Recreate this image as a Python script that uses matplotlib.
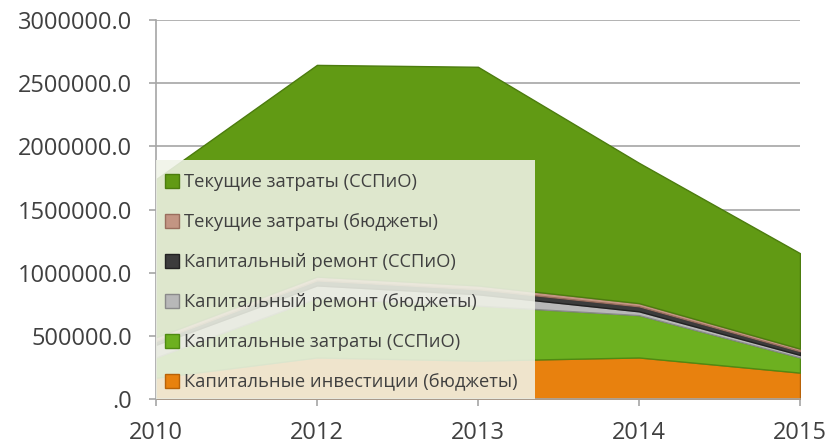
import matplotlib.pyplot as plt
from matplotlib.patches import Rectangle, Patch

plt.rcParams['font.family'] = ['Open Sans', 'DejaVu Sans']

years = ['2010', '2012', '2013', '2014', '2015']

# stacked from bottom to top
kap_invest_budget = [170000, 330000, 305000, 330000, 210000]
kap_zatraty_sspio = [160000, 470000, 435000, 335000, 120000]
kap_remont_budget = [100000, 100000, 90000, 30000, 20000]
kap_remont_sspio = [30000, 40000, 40000, 40000, 30000]
tek_zatraty_budget = [30000, 30000, 30000, 25000, 20000]
tek_zatraty_sspio = [1250000, 1675000, 1730000, 1110000, 755000]

series = [kap_invest_budget, kap_zatraty_sspio, kap_remont_budget,
          kap_remont_sspio, tek_zatraty_budget, tek_zatraty_sspio]
labels = ['Капитальные инвестиции (бюджеты)', 'Капитальные затраты (ССПиО)',
          'Капитальный ремонт (бюджеты)', 'Капитальный ремонт (ССПиО)',
          'Текущие затраты (бюджеты)', 'Текущие затраты (ССПиО)']
colors = ['#E8810E', '#6DB020', '#B8B8B8', '#3C3C3C', '#C39583', '#619A14']
edges = ['#B86208', '#4F8A12', '#8A8A8A', '#222222', '#9A6E5E', '#4C7C0E']

yticks = [0, 500000, 1000000, 1500000, 2000000, 2500000, 3000000]
ytick_labels = ['.0', '500000.0', '1000000.0', '1500000.0', '2000000.0',
                '2500000.0', '3000000.0']

fig = plt.figure(figsize=(8.29, 4.45), dpi=100)
ax = fig.add_axes([0.188, 0.103, 0.777, 0.852])

x = list(range(len(years)))
polys = ax.stackplot(x, *series, colors=colors, labels=labels, zorder=2)
for p, ec in zip(polys, edges):
    p.set_edgecolor(ec)
    p.set_linewidth(1.0)

ax.set_xlim(0, len(years) - 1)
ax.set_ylim(0, 3000000)
ax.set_xticks(x)
ax.set_xticklabels(years)
ax.set_yticks(yticks)
ax.set_yticklabels(ytick_labels)
ax.yaxis.grid(True, color='#A6A6A6', linewidth=1.2, zorder=0)
ax.set_axisbelow(True)

for s in ['top', 'right']:
    ax.spines[s].set_visible(False)
for s in ['left', 'bottom']:
    ax.spines[s].set_color('#A6A6A6')
    ax.spines[s].set_linewidth(1.2)
ax.tick_params(axis='both', colors='#A6A6A6', labelcolor='#404040',
               labelsize=17, length=5, width=1.2)
ax.tick_params(axis='y', pad=12)
ax.tick_params(axis='x', pad=11)

# legend box over the chart
ax.add_patch(Rectangle((0, 0), 0.589, 0.63, transform=ax.transAxes,
                       facecolor='#F0F3E8', alpha=0.88, edgecolor='none', zorder=3))
handles = [Patch(facecolor=c, edgecolor=e) for c, e in zip(colors, edges)]
leg = ax.legend(handles[::-1], labels[::-1], loc='upper left',
                bbox_to_anchor=(0.0, 0.62), frameon=False, fontsize=13.2,
                labelspacing=1.2, handlelength=0.75, handleheight=0.75,
                handletextpad=0.3, borderaxespad=0.2, borderpad=0.3)
leg.set_zorder(4)
for t in leg.get_texts():
    t.set_color('#404040')

fig.savefig('out.png', dpi=100)
